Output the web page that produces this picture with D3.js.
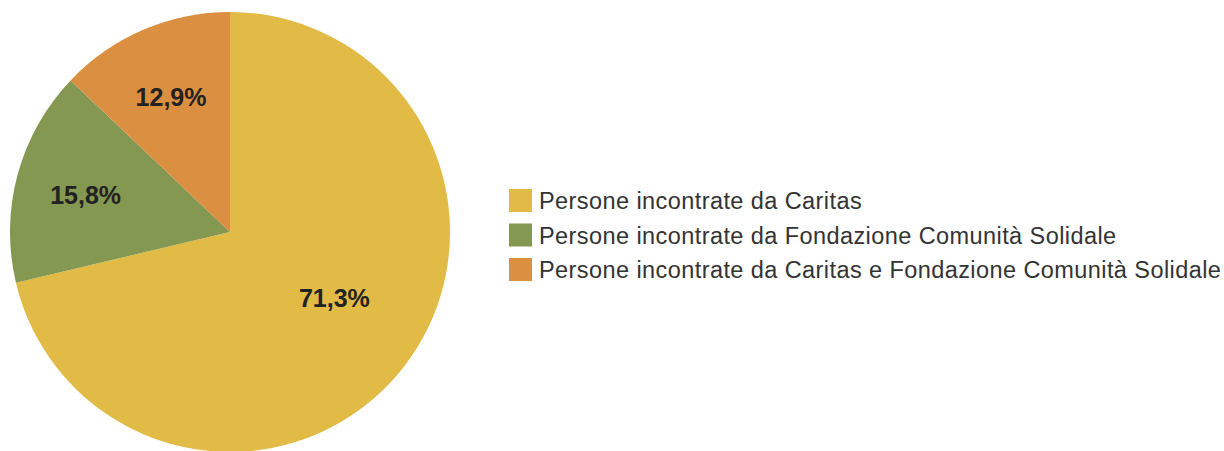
<!DOCTYPE html>
<html>
<head>
<meta charset="utf-8">
<script src="https://cdn.jsdelivr.net/npm/d3@7"></script>
<style>
  html, body { margin: 0; padding: 0; background: #fff; }
  svg { display: block; }
</style>
</head>
<body>
<script>
// data
const categories = [
  'Persone incontrate da Caritas',
  'Persone incontrate da Fondazione Comunità Solidale',
  'Persone incontrate da Caritas e Fondazione Comunità Solidale'
];
const values = [71.3, 15.8, 12.9];
const colors = ['#e1bb45', '#849851', '#db8f40'];

const outerW = 1224,
      outerH = 451;

const cx = 230,
      cy = 232,
      radius = 220;

const svg = d3.select('body').append('svg')
    .attr('width', outerW)
    .attr('height', outerH);

const pie = d3.pie().sort(null).value(d => d);
const arcs = pie(values);

const arc = d3.arc().innerRadius(0).outerRadius(radius);

const g = svg.append('g').attr('transform', `translate(${cx},${cy})`);

g.selectAll('path')
    .data(arcs)
    .enter()
    .append('path')
    .attr('d', arc)
    .attr('fill', (d, i) => colors[i]);

// labels: big slice sits closer to centre
const fmt = v => d3.format('.1f')(v).replace('.', ',') + '%';

g.selectAll('text')
    .data(arcs)
    .enter()
    .append('text')
    .attr('transform', d => {
      const big = (d.endAngle - d.startAngle) > Math.PI;
      const r = big ? radius * 0.57 : radius * 0.68;
      const la = d3.arc().innerRadius(r).outerRadius(r);
      const [x, y] = la.centroid(d);
      return `translate(${big ? x + 6 : x},${big ? y - 12 : y + 2})`;
    })
    .attr('text-anchor', 'middle')
    .attr('dy', '0.36em')
    .style('font-family', '"Liberation Sans", Arial, sans-serif')
    .style('font-weight', 'bold')
    .style('font-size', '25px')
    .attr('fill', '#222')
    .text(d => fmt(d.data));

// legend
const legend = svg.append('g').attr('transform', 'translate(509,189)');

const rows = legend.selectAll('g')
    .data(categories)
    .enter()
    .append('g')
    .attr('transform', (d, i) => `translate(0,${i * 34.5})`);

rows.append('rect')
    .attr('width', 23)
    .attr('height', 23)
    .attr('fill', (d, i) => colors[i]);

rows.append('text')
    .attr('x', 30)
    .attr('y', 20)
    .style('font-family', '"Liberation Sans", Arial, sans-serif')
    .style('font-size', '23.5px')
    .style('letter-spacing', '0.42px')
    .attr('fill', '#333')
    .text(d => d);
</script>
</body>
</html>
